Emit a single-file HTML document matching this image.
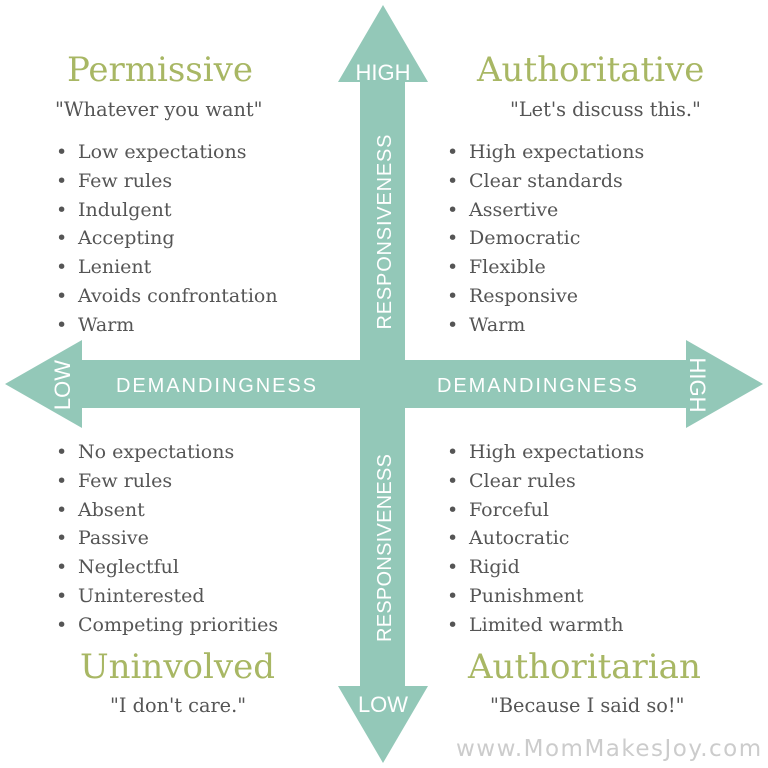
<!DOCTYPE html><html><head><style>
body{margin:0;width:768px;height:768px;background:#fff;overflow:hidden;position:relative;font-family:"DejaVu Serif",serif;color:#555}
.t{position:absolute;font-size:34px;color:#a8b764;white-space:nowrap}
.q{position:absolute;font-size:19.3px;white-space:nowrap}
ul{position:absolute;margin:0;padding:0;list-style:none;font-size:19px;line-height:28.8px}
li:before{content:"•";position:absolute;left:-22px}
li{position:relative;white-space:nowrap}
.s{font-family:"Liberation Sans",sans-serif;fill:#fff}
</style></head><body>
<svg width="768" height="768" style="position:absolute;left:0;top:0">
<g fill="#93c8b8">
<polygon points="383,5 428,82 405,82 405,686 428,686 383,763 338,686 360,686 360,82 338,82"/>
<polygon points="5,384 82,340 82,360 686,360 686,340 763,384 686,428 686,408 82,408 82,428"/>
</g>
<text class="s" x="383" y="80" font-size="22" text-anchor="middle">HIGH</text>
<text class="s" x="383" y="712" font-size="22" text-anchor="middle">LOW</text>
<text class="s" x="216" y="392" font-size="20" text-anchor="middle" textLength="200">DEMANDINGNESS</text>
<text class="s" x="537" y="392" font-size="20" text-anchor="middle" textLength="200">DEMANDINGNESS</text>
<text class="s" font-size="20" text-anchor="middle" textLength="195" transform="translate(391,232) rotate(-90)">RESPONSIVENESS</text>
<text class="s" font-size="20" text-anchor="middle" textLength="188" transform="translate(391,548) rotate(-90)">RESPONSIVENESS</text>
<text class="s" font-size="22" text-anchor="middle" transform="translate(70,385) rotate(-90)">LOW</text>
<text class="s" font-size="22" text-anchor="middle" transform="translate(690,385) rotate(90)">HIGH</text>
</svg>
<div class="t" style="left:67px;top:50px">Permissive</div>
<div class="q" style="left:55px;top:98px">"Whatever you want"</div>
<div class="t" style="left:477px;top:50px">Authoritative</div>
<div class="q" style="left:510px;top:98px">"Let's discuss this."</div>
<ul style="left:78px;top:138px"><li>Low expectations</li><li>Few rules</li><li>Indulgent</li><li>Accepting</li><li>Lenient</li><li>Avoids confrontation</li><li>Warm</li></ul>
<ul style="left:469px;top:138px"><li>High expectations</li><li>Clear standards</li><li>Assertive</li><li>Democratic</li><li>Flexible</li><li>Responsive</li><li>Warm</li></ul>
<ul style="left:78px;top:438px"><li>No expectations</li><li>Few rules</li><li>Absent</li><li>Passive</li><li>Neglectful</li><li>Uninterested</li><li>Competing priorities</li></ul>
<ul style="left:469px;top:438px"><li>High expectations</li><li>Clear rules</li><li>Forceful</li><li>Autocratic</li><li>Rigid</li><li>Punishment</li><li>Limited warmth</li></ul>
<div class="t" style="left:80px;top:647px">Uninvolved</div>
<div class="q" style="left:110px;top:694px">"I don't care."</div>
<div class="t" style="left:468px;top:647px">Authoritarian</div>
<div class="q" style="left:490px;top:694px">"Because I said so!"</div>
<div style="position:absolute;left:456px;top:736px;font-family:'DejaVu Sans',sans-serif;font-size:23px;color:#ccc;letter-spacing:1.5px">www.MomMakesJoy.com</div>
</body></html>
